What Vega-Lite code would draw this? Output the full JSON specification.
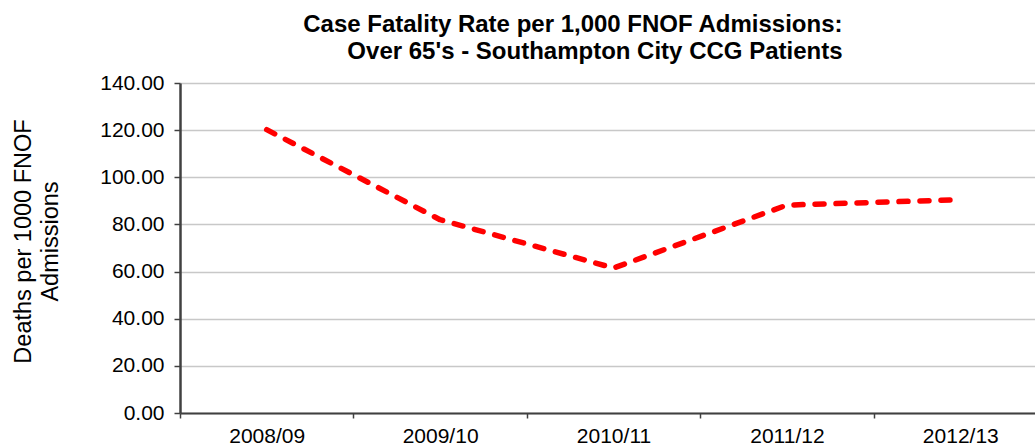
{
  "$schema": "https://vega.github.io/schema/vega-lite/v6.json",
  "width": 855,
  "height": 330,
  "autosize": {"type": "none"},
  "padding": {"left": 180, "top": 83, "right": 0, "bottom": 35},
  "background": "white",
  "config": {
    "font": "Liberation Sans",
    "view": {"stroke": null}
  },
  "title": {
    "text": ["Case Fatality Rate per 1,000 FNOF Admissions:", "Over 65's - Southampton City CCG Patients"],
    "font": "Liberation Sans",
    "fontSize": 24,
    "fontWeight": "bold",
    "color": "black",
    "anchor": "middle",
    "frame": "group",
    "align": "right",
    "dx": 235,
    "baseline": "alphabetic",
    "offset": -11,
    "lineHeight": 27
  },
  "data": {
    "values": [
      {"year": "2008/09", "rate": 120.2},
      {"year": "2009/10", "rate": 82.0},
      {"year": "2010/11", "rate": 61.5},
      {"year": "2011/12", "rate": 88.2},
      {"year": "2012/13", "rate": 90.5}
    ]
  },
  "mark": {
    "type": "line",
    "color": "#ff0000",
    "strokeWidth": 5.5,
    "strokeDash": [9, 12],
    "strokeCap": "round",
    "strokeJoin": "round"
  },
  "encoding": {
    "x": {
      "field": "year",
      "type": "nominal",
      "sort": null,
      "scale": {"type": "band", "paddingInner": 0, "paddingOuter": 0, "range": [0, 867]},
      "axis": {
        "title": null,
        "labelAngle": 0,
        "labelFontSize": 21,
        "labelColor": "black",
        "labelPadding": 7,
        "tickBand": "extent",
        "tickSize": 5,
        "tickColor": "#404040",
        "tickWidth": 1.5,
        "domainColor": "#404040",
        "domainWidth": 2,
        "grid": false
      }
    },
    "y": {
      "field": "rate",
      "type": "quantitative",
      "scale": {"domain": [0, 140], "nice": false},
      "axis": {
        "values": [0, 20, 40, 60, 80, 100, 120, 140],
        "format": ".2f",
        "labelFontSize": 21,
        "labelColor": "black",
        "labelPadding": 10,
        "tickSize": 6,
        "tickColor": "#404040",
        "tickWidth": 1.5,
        "domainColor": "#404040",
        "domainWidth": 2.5,
        "grid": true,
        "gridColor": "#c8c8c8",
        "gridWidth": 1.5,
        "title": ["Deaths per 1000 FNOF", "Admissions"],
        "titleFontSize": 23.5,
        "titleFontWeight": "normal",
        "titleColor": "black",
        "titleAngle": -90,
        "titleAlign": "center",
        "titleBaseline": "alphabetic",
        "titleLineHeight": 27,
        "titleX": -150,
        "titleY": 158
      }
    }
  }
}
